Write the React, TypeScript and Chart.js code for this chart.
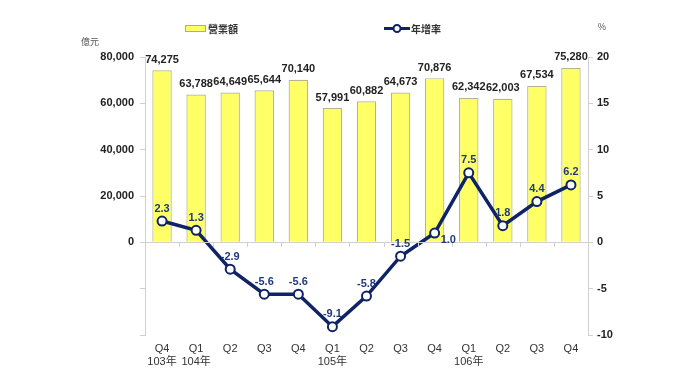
import React, { useEffect, useRef } from "react";
import { Chart, registerables } from "chart.js";

Chart.register(...registerables);

const categories: (string | string[])[] = [
  ["Q4", "103年"], ["Q1", "104年"], "Q2", "Q3", "Q4", ["Q1", "105年"], "Q2", "Q3", "Q4", ["Q1", "106年"], "Q2", "Q3", "Q4",
];
const revenue = [74275, 63788, 64649, 65644, 70140, 57991, 60882, 64673, 70876, 62342, 62003, 67534, 75280];
const growth = [2.3, 1.3, -2.9, -5.6, -5.6, -9.1, -5.8, -1.5, 1.0, 7.5, 1.8, 4.4, 6.2];
const revenueLabel = "營業額";
const growthLabel = "年增率";

const NAVY = "#0f2366";
const AXIS = "#d0d0d0";

const overlay = {
  id: "overlay",
  afterDatasetsDraw(chart: any) {
    const ctx = chart.ctx;
    const y = chart.scales.y;
    const area = chart.chartArea;
    ctx.save();
    // zero line with ticks
    const y0 = y.getPixelForValue(0);
    ctx.strokeStyle = AXIS;
    ctx.lineWidth = 1;
    ctx.beginPath();
    ctx.moveTo(area.left, Math.round(y0) + 0.5);
    ctx.lineTo(area.right, Math.round(y0) + 0.5);
    const n = categories.length;
    const w = (area.right - area.left) / n;
    for (let i = 1; i < n; i++) {
      const xx = Math.round(area.left + i * w) + 0.5;
      ctx.moveTo(xx, Math.round(y0));
      ctx.lineTo(xx, Math.round(y0) + 5);
    }
    ctx.stroke();

    // bar labels
    const barMeta = chart.getDatasetMeta(0);
    ctx.font = "bold 11px Arial, 'Liberation Sans', sans-serif";
    ctx.fillStyle = "#222";
    ctx.textAlign = "center";
    ctx.textBaseline = "bottom";
    barMeta.data.forEach((el: any, i: number) => {
      ctx.fillText(revenue[i].toLocaleString("en-US"), el.x, el.y - 5);
    });
    // line labels: above the point, or to its right when it sits just above the zero line
    const lineMeta = chart.getDatasetMeta(1);
    ctx.fillStyle = "#1f3a7a";
    lineMeta.data.forEach((el: any, i: number) => {
      const txt = growth[i].toFixed(1);
      if (growth[i] > 0 && growth[i] < 1.2 && i > 0 && growth[i - 1] < 0) {
        ctx.textAlign = "left";
        ctx.textBaseline = "middle";
        ctx.fillText(txt, el.x + 6, el.y + 7);
        ctx.textAlign = "center";
        ctx.textBaseline = "bottom";
      } else {
        ctx.fillText(txt, el.x, el.y - 7);
      }
    });

    // axis titles
    ctx.font = "9px 'Noto Sans CJK TC', sans-serif";
    ctx.fillStyle = "#555";
    ctx.textAlign = "center";
    ctx.textBaseline = "middle";
    ctx.fillText("億元", 90, 42);
    ctx.fillText("%", 602, 27);

    // legend
    ctx.fillStyle = "#ffff66";
    ctx.strokeStyle = "#b0b070";
    ctx.lineWidth = 1;
    ctx.fillRect(185, 25, 20, 6);
    ctx.strokeRect(185.5, 25.5, 20, 6);
    ctx.font = "bold 10px 'Noto Sans CJK TC', sans-serif";
    ctx.fillStyle = "#333";
    ctx.textAlign = "left";
    ctx.fillText(revenueLabel, 208, 29);
    ctx.strokeStyle = NAVY;
    ctx.lineWidth = 3;
    ctx.beginPath();
    ctx.moveTo(384, 28.5);
    ctx.lineTo(410, 28.5);
    ctx.stroke();
    ctx.beginPath();
    ctx.lineWidth = 2;
    ctx.fillStyle = "#fff";
    ctx.arc(397, 28.5, 3.5, 0, Math.PI * 2);
    ctx.fill();
    ctx.stroke();
    ctx.fillStyle = "#333";
    ctx.fillText(growthLabel, 411, 29);
    ctx.restore();
  },
};

export default function App() {
  const ref = useRef<HTMLCanvasElement>(null);
  useEffect(() => {
    if (!ref.current) return;
    const chart = new Chart(ref.current, {
      type: "bar",
      data: {
        labels: categories,
        datasets: [
          {
            type: "bar",
            label: revenueLabel,
            data: revenue,
            yAxisID: "y",
            backgroundColor: "#ffff66",
            borderColor: "#b4b490",
            borderWidth: 1.2,
            categoryPercentage: 1,
            barPercentage: 0.57,
            order: 2,
          },
          {
            type: "line",
            label: growthLabel,
            data: growth,
            yAxisID: "y1",
            borderColor: NAVY,
            borderWidth: 3.5,
            pointRadius: 4.5,
            pointBorderWidth: 2,
            pointBackgroundColor: "#fff",
            pointBorderColor: NAVY,
            tension: 0,
            order: 1,
          } as any,
        ],
      },
      options: {
        animation: false,
        responsive: false,
        maintainAspectRatio: false,
        layout: { padding: { top: 57, left: 0, right: 0, bottom: 0 } },
        plugins: { legend: { display: false }, tooltip: { enabled: false } },
        scales: {
          x: {
            grid: { display: false },
            border: { display: false },
            ticks: {
              color: "#333",
              font: { size: 11, family: "Arial, 'Noto Sans CJK TC', sans-serif", lineHeight: 1.15 },
              maxRotation: 0,
              padding: 0,
            },
            afterFit(s: any) { s.height = 48; },
          },
          y: {
            position: "left",
            min: -40000,
            max: 80000,
            ticks: {
              stepSize: 20000,
              color: "#222",
              font: { size: 11, weight: "bold", family: "Arial, sans-serif" },
              padding: 6,
              callback: (v: any) => (v < 0 ? "" : Number(v).toLocaleString("en-US")),
            },
            grid: { drawOnChartArea: false, color: AXIS, tickLength: 5 },
            border: { color: AXIS },
            afterFit(s: any) { s.width = 145; },
          },
          y1: {
            position: "right",
            min: -10,
            max: 20,
            ticks: {
              stepSize: 5,
              color: "#222",
              font: { size: 11, weight: "bold", family: "Arial, sans-serif" },
              padding: 4,
            },
            grid: { drawOnChartArea: false, color: AXIS, tickLength: 5 },
            border: { color: AXIS },
            afterFit(s: any) { s.width = 92; },
          },
        },
      } as any,
      plugins: [overlay],
    });
    return () => chart.destroy();
  }, []);
  return (
    <div style={{ position: "absolute", left: 0, top: 0, width: 680, height: 383, background: "#fff" }}>
      <canvas ref={ref} width={680} height={383} style={{ width: 680, height: 383 }} />
    </div>
  );
}
